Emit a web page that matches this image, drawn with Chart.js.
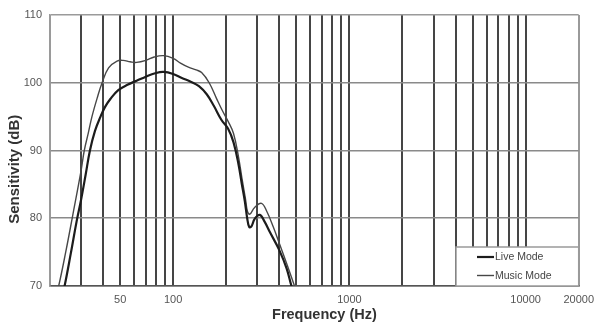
<!DOCTYPE html>
<html>
<head>
<meta charset="utf-8">
<script src="https://cdn.jsdelivr.net/npm/chart.js@4.4.1/dist/chart.umd.min.js"></script>
<style>
    html, body { margin: 0; padding: 0; background: #fff; }
    #wrap { width: 601px; height: 326px; position: relative; }
</style>
</head>
<body>
<div id="wrap"><canvas id="sensChart"></canvas></div>
<script>
// frequency response
const liveFreq  = [23, 24.2, 26.2, 28.3, 30, 31.8, 33.7, 36, 38.7, 41, 44, 48.8, 55, 62, 70, 79, 88, 100, 112, 125, 140, 155, 170, 188, 205, 220, 235, 245, 255, 263, 270, 278, 290, 310, 330, 353, 400, 440, 469, 500];
const liveDb    = [67.6, 70, 74.7, 79.5, 82.7, 86.3, 90, 92.9, 95, 96.4, 97.6, 98.9, 99.7, 100.3, 100.9, 101.4, 101.6, 101.3, 100.7, 100.2, 99.5, 98.3, 96.6, 94.5, 93.2, 91.2, 87.9, 85.1, 82.5, 80, 78.7, 78.8, 79.9, 80.5, 79.5, 78.0, 75.3, 72.6, 70, 67.7];
const musicFreq = [21, 22.4, 24.6, 26.9, 30, 31.3, 33, 34.6, 37, 39.5, 43, 48, 52, 57, 62, 70, 78, 88, 100, 110, 122, 135, 145, 160, 176, 190, 205, 220, 235, 247, 257, 264, 272, 290, 317, 340, 370, 400, 445, 488, 520];
const musicDb   = [67.3, 70, 75.1, 80.4, 87, 90, 92.6, 95, 97.7, 100, 102.2, 103.2, 103.3, 103.1, 103.0, 103.3, 103.8, 104.0, 103.6, 102.9, 102.3, 101.9, 101.5, 100.0, 97.7, 95.9, 94.3, 92.5, 89.0, 85.5, 82.9, 81.0, 80.6, 81.6, 82.2, 81.0, 78.7, 76.3, 73.0, 70, 67.8];

const seriesNames = ['Live Mode', 'Music Mode'];

// x grid positions (log axis) and which of them get a label
const xTickValues = [20, 30, 40, 50, 60, 70, 80, 90, 100, 200, 300, 400, 500, 600, 700, 800, 900,
                     1000, 2000, 3000, 4000, 5000, 6000, 7000, 8000, 9000, 10000, 20000];
const xTickLabels = [50, 100, 1000, 10000, 20000];
const yMin = 70, yMax = 110, yStep = 10;

const toPoints = (xs, ys) => xs.map((x, i) => ({ x: x, y: ys[i] }));

// legend box drawn inside the plot, bottom right
const insideLegend = {
    id: 'insideLegend',
    afterDatasetsDraw(chart) {
        const ctx = chart.ctx;
        const area = chart.chartArea;
        const x0 = 456, y0 = 247;
        ctx.save();
        ctx.fillStyle = '#fff';
        ctx.fillRect(x0, y0, area.right - x0, area.bottom - y0);
        ctx.strokeStyle = '#9a9a9a';
        ctx.lineWidth = 1.5;
        ctx.strokeRect(x0, y0, area.right - x0, area.bottom - y0);
        ctx.font = '10.5px "Liberation Sans", Arial, sans-serif';
        ctx.textBaseline = 'middle';
        ctx.fillStyle = '#444';
        chart.data.datasets.forEach((ds, i) => {
            const y = 257 + i * 18.5;
            ctx.beginPath();
            ctx.moveTo(477, y);
            ctx.lineTo(494, y);
            ctx.strokeStyle = ds.borderColor;
            ctx.lineWidth = ds.borderWidth;
            ctx.stroke();
            ctx.fillText(ds.label, 495, y + 0.5);
        });
        ctx.restore();
    }
};

const ctx = document.getElementById('sensChart').getContext('2d');
new Chart(ctx, {
    type: 'line',
    data: {
        datasets: [{
            label: seriesNames[0],
            data: toPoints(liveFreq, liveDb),
            borderColor: '#1c1c1c',
            borderWidth: 2.2,
            pointRadius: 0,
            tension: 0.4
        }, {
            label: seriesNames[1],
            data: toPoints(musicFreq, musicDb),
            borderColor: '#474747',
            borderWidth: 1.4,
            pointRadius: 0,
            tension: 0.4
        }]
    },
    options: {
        responsive: true,
        maintainAspectRatio: false,
        animation: false,
        layout: { padding: { top: 15, right: 22, left: 0, bottom: 0 } },
        plugins: {
            legend: { display: false },
            tooltip: { enabled: false }
        },
        scales: {
            x: {
                type: 'logarithmic',
                min: 20,
                max: 20000,
                afterBuildTicks: (scale) => {
                    scale.ticks = xTickValues.map(v => ({ value: v }));
                },
                afterFit: (scale) => { scale.height = 40; },
                grid: {
                    drawTicks: false,
                    color: (c) => (c.tick && (c.tick.value === 20 || c.tick.value === 20000)) ? '#9a9a9a' : '#454545',
                    lineWidth: 2
                },
                border: { color: '#555', width: 1.5 },
                ticks: {
                    autoSkip: false,
                    maxRotation: 0,
                    padding: 7,
                    color: '#555',
                    font: { family: '"Liberation Sans", Arial, sans-serif', size: 11 },
                    callback: (v) => xTickLabels.includes(v) ? String(v) : ''
                },
                title: {
                    display: true,
                    text: '     Frequency (Hz)',
                    color: '#333',
                    font: { family: '"Liberation Sans", Arial, sans-serif', size: 14.5, weight: 'bold' },
                    padding: { top: 0, bottom: 2 }
                }
            },
            y: {
                min: yMin,
                max: yMax,
                afterFit: (scale) => { scale.width = 50; },
                grid: {
                    drawTicks: false,
                    color: (c) => (c.tick && c.tick.value === yMax) ? '#9a9a9a' : '#8a8a8a',
                    lineWidth: 1.6
                },
                border: { color: '#9a9a9a', width: 1.5 },
                ticks: {
                    stepSize: yStep,
                    padding: 8,
                    color: '#555',
                    font: { family: '"Liberation Sans", Arial, sans-serif', size: 11 }
                },
                title: {
                    display: true,
                    text: 'Sensitivity (dB)         ',
                    color: '#333',
                    font: { family: '"Liberation Sans", Arial, sans-serif', size: 15, weight: 'bold' },
                    padding: { top: 6, bottom: 0 }
                }
            }
        }
    },
    plugins: [insideLegend]
});
</script>
</body>
</html>
